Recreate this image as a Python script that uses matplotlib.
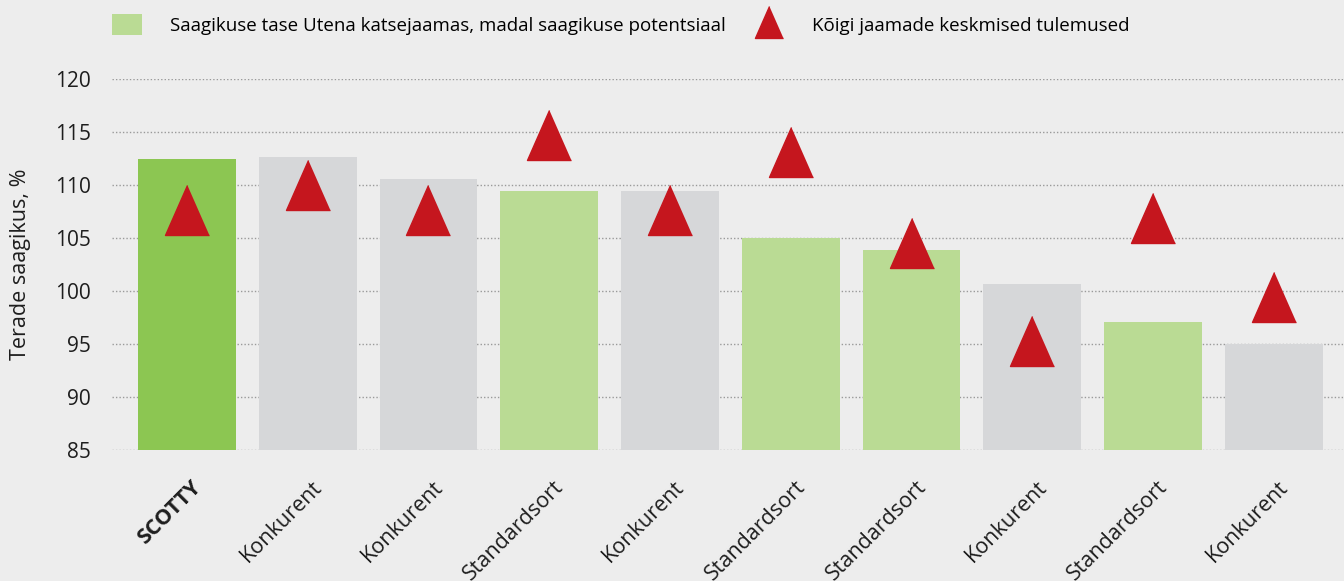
import numpy as np
import matplotlib.pyplot as plt
from matplotlib.lines import Line2D
from matplotlib.patches import Patch
import matplotlib.transforms as mtransforms

plt.rcParams['font.family'] = ['Open Sans', 'DejaVu Sans']

categories = ['SCOTTY', 'Konkurent', 'Konkurent', 'Standardsort', 'Konkurent',
              'Standardsort', 'Standardsort', 'Konkurent', 'Standardsort', 'Konkurent']
utena = [112.5, 112.6, 110.6, 109.4, 109.4, 105.0, 103.9, 100.7, 97.1, 95.0]
all_stations = [107.6, 110.0, 107.6, 114.7, 107.6, 113.1, 104.5, 95.3, 106.9, 99.4]
yticks = [85, 90, 95, 100, 105, 110, 115, 120]

bg = '#ededed'
c_scotty = '#8cc652'
c_std = '#badb94'
c_comp = '#d6d7d9'
c_red = '#c5161e'
c_text = '#1e1e1e'


def bar_color(name):
    if name == 'SCOTTY':
        return c_scotty
    if name == 'Standardsort':
        return c_std
    return c_comp


fig = plt.figure(figsize=(13.44, 5.81), dpi=100, facecolor=bg)
ax = fig.add_axes([0.0833, 0.2255, 0.9167, 0.6385])
ax.set_facecolor(bg)

x = np.arange(len(categories))
ax.bar(x, [v - 85 for v in utena], bottom=85, width=0.81,
       color=[bar_color(c) for c in categories], zorder=2)

tri = [(0, 1), (-0.88, -1), (0.88, -1)]
ax.plot(x, all_stations, linestyle='none', marker=tri, markersize=36,
        color=c_red, zorder=3, clip_on=False)

ax.set_xlim(-0.62, 9.58)
ax.set_ylim(85, 120)
ax.set_yticks(yticks)
ax.yaxis.grid(True, linestyle=(0, (1, 1.5)), color='#9a9a9a', linewidth=1, zorder=0)
ax.set_axisbelow(True)
for s in ax.spines.values():
    s.set_visible(False)
ax.tick_params(length=0, labelsize=15, colors=c_text)
ax.tick_params(axis='y', pad=15)

# rotated category labels, nudged down/right like the original
ax.set_xticks(x)
ax.set_xticklabels(categories, rotation=45, ha='right', rotation_mode='anchor', fontsize=15.5)
offset = mtransforms.ScaledTranslation(4 / 100, -22 / 100, fig.dpi_scale_trans)
for lbl in ax.get_xticklabels():
    lbl.set_transform(lbl.get_transform() + offset)
    lbl.set_color(c_text)
ax.get_xticklabels()[0].set_fontweight('bold')

ax.set_ylabel('Terade saagikus, %', fontsize=15.5, color=c_text)
ax.yaxis.set_label_coords(-0.066, 0.5)

handles = [Patch(facecolor=c_std, edgecolor='none'),
           Line2D([], [], linestyle='none', marker=tri, markersize=23, color=c_red)]
labels = ['Saagikuse tase Utena katsejaamas, madal saagikuse potentsiaal',
          'Kõigi jaamade keskmised tulemused']
fig.legend(handles, labels, loc='upper left', bbox_to_anchor=(0.0705, 1.005), ncol=2,
           frameon=False, fontsize=13.5, handlelength=1.6, handleheight=1.33,
           handletextpad=1.5, columnspacing=1.5)

fig.savefig('out.png', dpi=100, facecolor=bg)
